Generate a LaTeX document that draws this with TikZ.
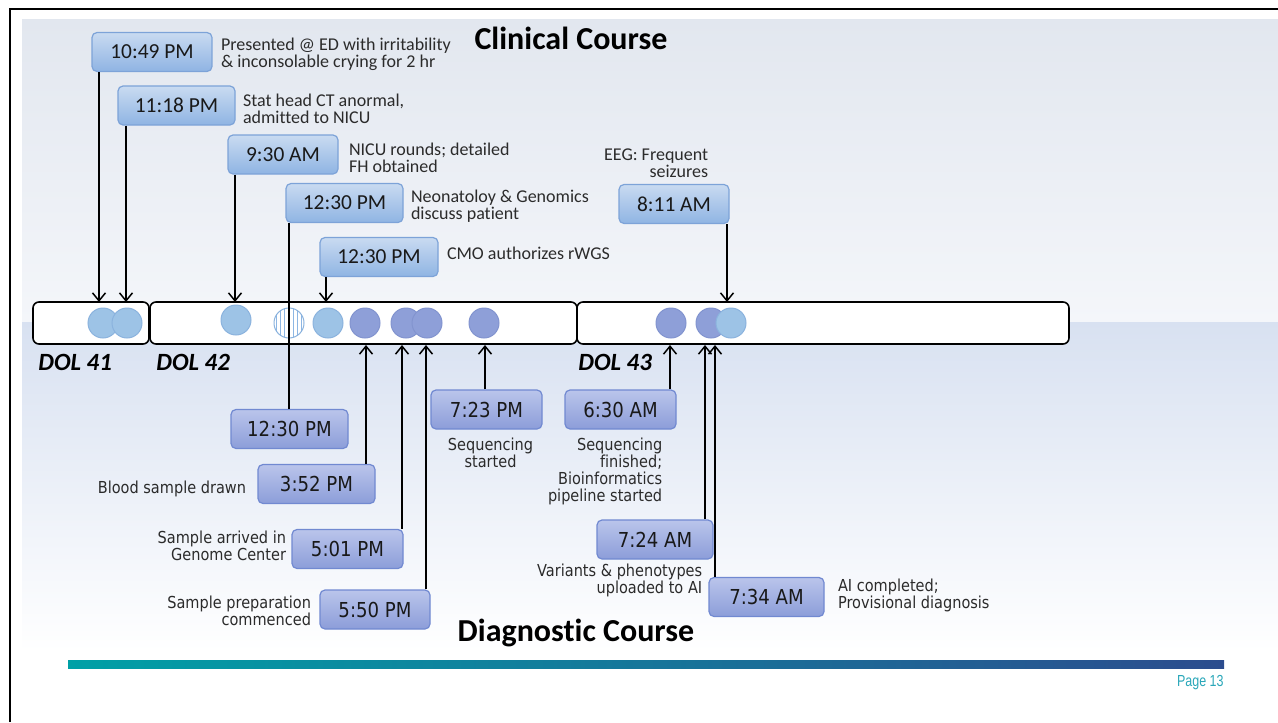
\documentclass[tikz,border=0pt]{standalone}
\usepackage{fontspec}
\setmainfont[Ligatures=NoCommon]{Carlito}
\newfontfamily\tahfont[FakeStretch=0.88,Ligatures=NoCommon]{DejaVu Sans}
\newfontfamily\narrowfont[FakeStretch=0.78]{Liberation Sans}
\usetikzlibrary{arrows.meta,positioning}

\definecolor{bgtop}{HTML}{E2E7EF}
\definecolor{bgmid}{HTML}{F4F6FA}
\definecolor{bglow}{HTML}{D8E1F1}
\definecolor{boxline}{HTML}{7DA3D8}
\definecolor{boxtop}{HTML}{C9DBF1}
\definecolor{boxbot}{HTML}{8FB4E3}
\definecolor{dboxline}{HTML}{7189D1}
\definecolor{dboxtop}{HTML}{BAC5EB}
\definecolor{dboxbot}{HTML}{8C9DD9}
\definecolor{dotblue}{HTML}{9DC3E6}
\definecolor{dotblueline}{HTML}{8BB3DE}
\definecolor{stripeblue}{HTML}{8DB6E3}
\definecolor{dotpurple}{HTML}{8E9FD8}
\definecolor{dotpurpleline}{HTML}{8294CF}
\definecolor{textgray}{HTML}{2B2B2B}
\definecolor{pageteal}{HTML}{2AA7B9}
\definecolor{barleft}{HTML}{00A0A6}
\definecolor{barright}{HTML}{2C4C8E}

\begin{document}
\begin{tikzpicture}[x=0.5pt,y=-0.5pt,
  tbox/.style={draw=boxline, top color=boxtop, bottom color=boxbot, rounded corners=2.5pt,
    line width=0.6pt, minimum height=19.5pt, inner sep=0pt, text=black!90,
    font=\fontsize{10.7}{12}\selectfont},
  bbox/.style={draw=dboxline, top color=dboxtop, bottom color=dboxbot, rounded corners=2.5pt,
    line width=0.6pt, minimum height=19.5pt, inner sep=0pt, text=black!90,
    font=\tahfont\fontsize{10.3}{12}\selectfont},
  daybar/.style={draw, fill=white, rounded corners=3pt, line width=0.8pt,
    minimum height=21pt, inner sep=0pt},
  dot/.style={circle, minimum size=15pt, inner sep=0pt, line width=0.5pt},
  bluedot/.style={dot, fill=dotblue, draw=dotblueline},
  purpledot/.style={dot, fill=dotpurple, draw=dotpurpleline},
  stripedot/.style={dot, fill=white, draw=dotblueline,
    path picture={\foreach \k in {-3,...,3}
      \draw[stripeblue, line width=0.45pt] ([xshift=\k*2.1pt]path picture bounding box.north)
        -- ([xshift=\k*2.1pt]path picture bounding box.south);}},
  arr/.style={-{Straight Barb[length=4pt,width=6.5pt]}, line width=0.75pt},
  desc/.style={inner sep=0pt, text=textgray, align=left, font=\fontsize{9}{8.5}\selectfont},
  bdesc/.style={inner sep=0pt, text=textgray, font=\tahfont\fontsize{8.25}{8.5}\selectfont},
  daylabel/.style={inner sep=0pt, anchor=west, font=\fontsize{12.4}{14}\bfseries\itshape},
  heading/.style={inner sep=0pt, font=\fontsize{16}{18}\bfseries},
]
\useasboundingbox (0,0) rectangle (1278,722);

% slide background
\shade[top color=bgtop, bottom color=bgmid] (22,20) rectangle (1278,322);
\shade[top color=bglow, bottom color=white] (22,322) rectangle (1278,652);
\draw[line width=1.3pt] (10,722) -- (10,9) -- (1278,9);
\shade[left color=barleft, right color=barright] (68,660) rectangle (1224,668);
\node[anchor=east, inner sep=0pt, text=pageteal, font=\narrowfont\fontsize{8}{9}\selectfont] (page) at (1224,683) {Page 13};

\node[heading] (clin) at (571,38) {Clinical Course};
\node[heading] (diag) at (576,633) {Diagnostic Course};

% days
\node[daybar, minimum width=58pt] (D41) at (91,323) {};
\node[daybar, minimum width=213.5pt] (D42) at (363.5,323) {};
\node[daybar, minimum width=246pt] (D43) at (823,323) {};
\node[daylabel] (L41) at (38,362) {DOL 41};
\node[daylabel] (L42) at (156,362) {DOL 42};
\node[daylabel] (L43) at (578,362) {DOL 43};

% events on the time line
\node[bluedot] (c1) at (103,323) {};
\node[bluedot] (c2) at (127,323) {};
\node[bluedot] (c3) at (236,320) {};
\node[stripedot] (c4) at (289,323) {};
\node[bluedot] (c5) at (328,323) {};
\node[purpledot] (c6) at (365,323) {};
\node[purpledot] (c7) at (406,323) {};
\node[purpledot] (c8) at (427,323) {};
\node[purpledot] (c9) at (484,323) {};
\node[purpledot] (c10) at (671,323) {};
\node[purpledot] (c11) at (711,323) {};
\node[bluedot] (c12) at (731,323) {};

% clinical course
\node[tbox, minimum width=60pt] (T1049) at (152,52) {10:49 PM};
\node[tbox, minimum width=58.5pt] (T1118) at (176.5,105.5) {11:18 PM};
\node[tbox, minimum width=55pt] (T930) at (283,154.5) {9:30 AM};
\node[tbox, minimum width=58.5pt] (T1230a) at (344.5,203) {12:30 PM};
\node[tbox, minimum width=59pt] (T1230b) at (379,257) {12:30 PM};
\node[tbox, minimum width=55pt] (T811) at (674,204) {8:11 AM};

\node[desc, right=4pt of T1049, yshift=-1pt] (d1049) {Presented @ ED with irritability\\\& inconsolable crying for 2 hr};
\node[desc, right=3.5pt of T1118, yshift=-1.5pt] (d1118) {Stat head CT anormal,\\admitted to NICU};
\node[desc, right=5pt of T930, yshift=-1.5pt] (d930) {NICU rounds; detailed\\FH obtained};
\node[desc, right=3.5pt of T1230a, yshift=-1.5pt] (d1230a) {Neonatoloy \& Genomics\\discuss patient};
\node[desc, right=4pt of T1230b, yshift=2pt] (d1230b) {CMO authorizes rWGS};
\node[desc, align=right, anchor=south east, above left=3pt and 10.5pt of T811.north east] (d811) {EEG: Frequent\\seizures};

% diagnostic course
\node[bbox, minimum width=58.5pt] (B1230) at (289.5,429) {12:30 PM};
\node[bbox, minimum width=58.5pt] (B352) at (316.5,484) {3:52 PM};
\node[bbox, minimum width=55.5pt] (B501) at (347.5,549) {5:01 PM};
\node[bbox, minimum width=55pt] (B550) at (375,609.5) {5:50 PM};
\node[bbox, minimum width=55.5pt] (B723) at (486.5,409.5) {7:23 PM};
\node[bbox, minimum width=55.5pt] (B630) at (620.5,409.5) {6:30 AM};
\node[bbox, minimum width=58pt] (B724) at (655,539.5) {7:24 AM};
\node[bbox, minimum width=57.5pt] (B734) at (766.5,597) {7:34 AM};

\node[bdesc, left=5.5pt of B352, yshift=-2.5pt] (d352) {Blood sample drawn};
\node[bdesc, align=right, left=2.5pt of B501, yshift=1.5pt] (d501) {Sample arrived in\\Genome Center};
\node[bdesc, align=right, left=4pt of B550, yshift=-0.5pt] (d550) {Sample preparation\\commenced};
\node[bdesc, align=center, below=4pt of B723, xshift=2pt] (d723) {Sequencing\\started};
\node[bdesc, align=right, anchor=north east, below left=4pt and 7pt of B630.south east] (d630) {Sequencing\\finished;\\Bioinformatics\\pipeline started};
\node[bdesc, align=right, anchor=north east, below left=2pt and 5.5pt of B724.south east] (d724) {Variants \& phenotypes\\uploaded to AI};
\node[bdesc, align=left, right=6.5pt of B734, yshift=1pt] (d734) {AI completed;\\Provisional diagnosis};

% landing points on the day bars
\coordinate (a1) at (99,302);
\coordinate (a2) at (126,302);
\coordinate (a3) at (235,302);
\coordinate (a5) at (326,302);
\coordinate (a12) at (727,302);
\coordinate (b6) at (366,345);
\coordinate (b7) at (402,345);
\coordinate (b8) at (426,345);
\coordinate (b9) at (485,345);
\coordinate (b10) at (670,345);
\coordinate (b11) at (705,345);
\coordinate (b12) at (715,345);

\draw[arr] (T1049.south -| a1) -- (a1);
\draw[arr] (T1118.south -| a2) -- (a2);
\draw[arr] (T930.south -| a3) -- (a3);
\draw[line width=0.75pt] (T1230a.south -| c4) -- (B1230.north -| c4);
\draw[arr] (T1230b.south -| a5) -- (a5);
\draw[arr] (T811.south -| a12) -- (a12);

\draw[arr] (B352.north -| b6) -- (b6);
\draw[arr] (B501.north -| b7) -- (b7);
\draw[arr] (B550.north -| b8) -- (b8);
\draw[arr] (B723.north -| b9) -- (b9);
\draw[arr] (B630.north -| b10) -- (b10);
\draw[arr] (B724.north -| b11) -- (b11);
\draw[arr] (B734.north -| b12) -- (b12);

\end{tikzpicture}
\end{document}
